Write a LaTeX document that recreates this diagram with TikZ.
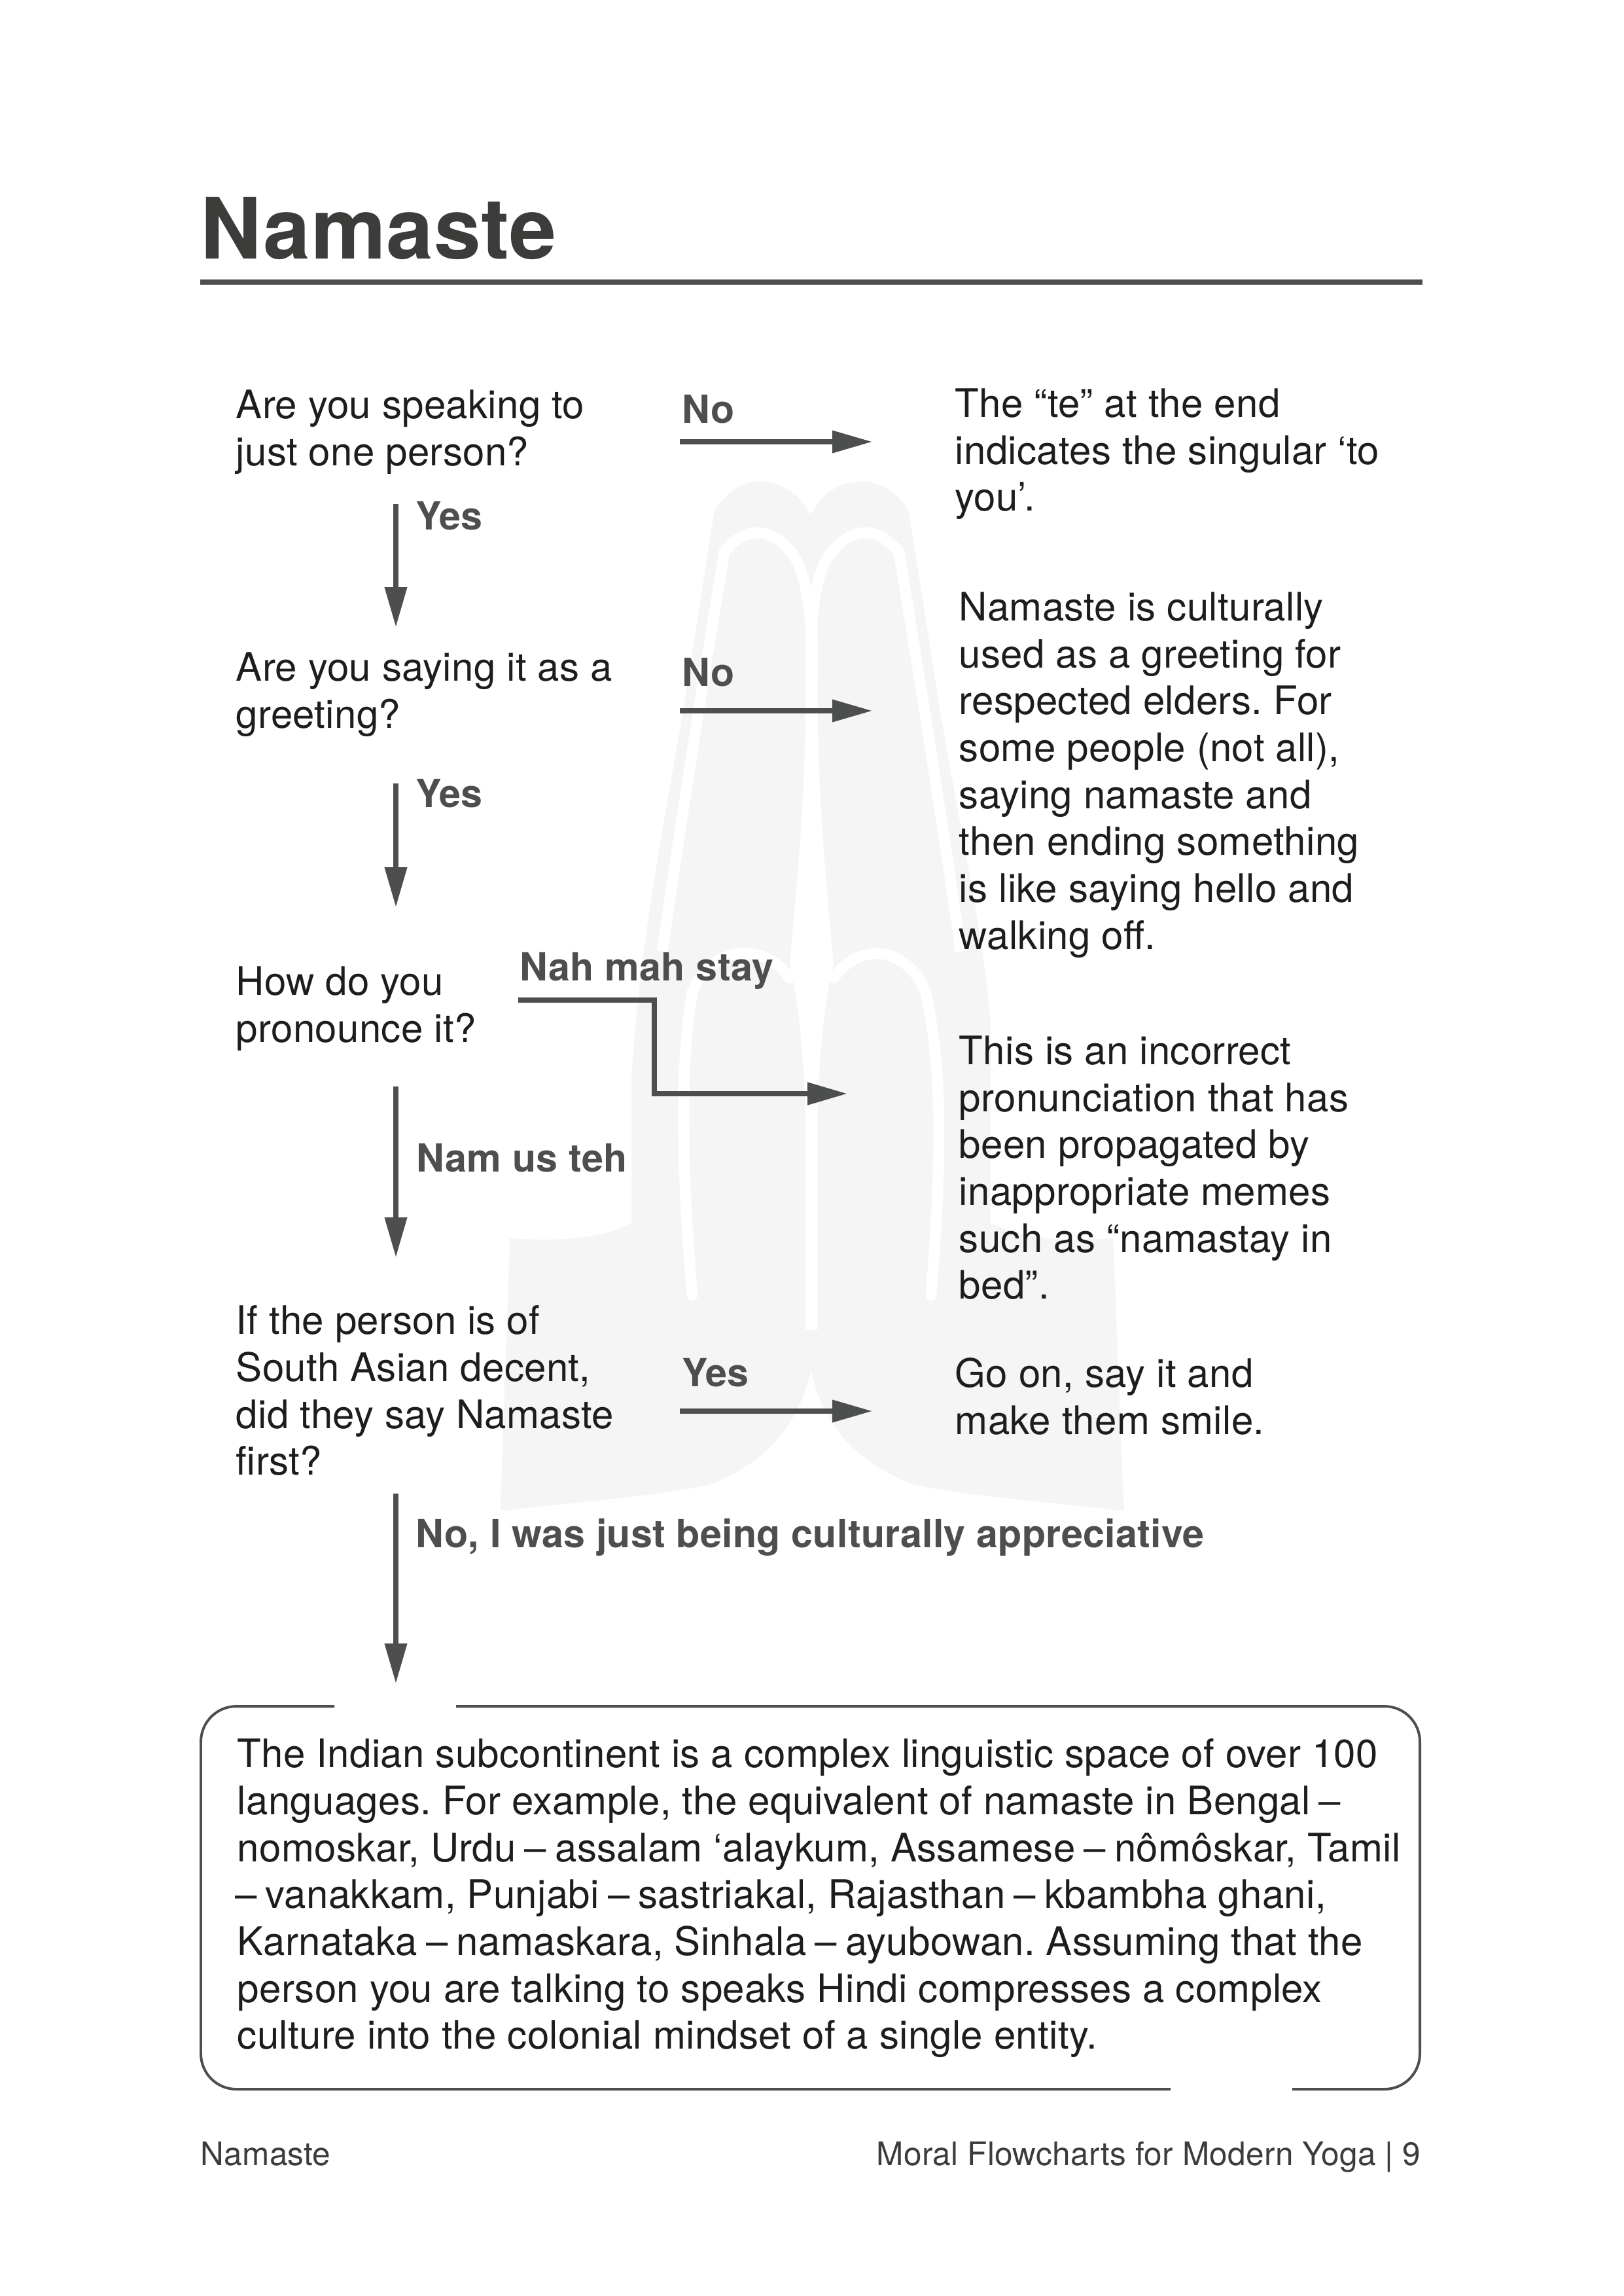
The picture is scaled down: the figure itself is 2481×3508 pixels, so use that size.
\documentclass[tikz,border=0pt]{standalone}
\usepackage{fontspec}
\setmainfont[LetterSpace=0.5]{TeX Gyre Heros}
\usetikzlibrary{arrows.meta}
\definecolor{ink}{HTML}{1D1D1B}
\definecolor{lab}{HTML}{4D4F4F}
\definecolor{head}{HTML}{3C3C3B}
\definecolor{hand}{HTML}{F5F5F5}
\newcommand{\tstrut}{\rule{0pt}{10pt}}
\newcommand{\dsh}{\kern-0.9pt–\kern-0.9pt}
\frenchspacing
\tikzset{
  body/.style={anchor=north west,align=left,inner sep=0pt,text=ink,font=\fontsize{14.4}{17.2}\selectfont},
  lbl/.style={anchor=base west,inner sep=0pt,text=lab,font=\fontsize{14.2}{16}\selectfont\bfseries},
  foot/.style={inner sep=0pt,text=head,font=\fontsize{11.9}{14}\selectfont},
  flow/.style={draw=lab,line width=1.7pt,-{Triangle[length=14.6pt,width=7.9pt]}},
  frame/.style={draw=lab,line width=0.95pt,rounded corners=13pt},
  band/.style={draw=white,line width=4pt,line cap=round}
}
\begin{document}
\begin{tikzpicture}[x=0.24pt,y=-0.24pt]
\useasboundingbox (0,0) rectangle (2481,3508);
% praying hands watermark
\begin{scope}[shift={(700,680)},x=0.16842pt,y=-0.25714pt]
\fill[hand] (768,100) .. controls (740,65) and (700,52) .. (655,52)
  .. controls (615,52) and (580,70) .. (558,95)
  -- (490,380) .. controls (440,570) and (395,720) .. (378,900)
  -- (378,1110) .. controls (300,1135) and (200,1135) .. (113,1131)
  -- (92,1520) .. controls (300,1505) and (480,1495) .. (560,1480)
  .. controls (660,1450) and (735,1410) .. (769,1320)
  .. controls (800,1410) and (880,1450) .. (980,1480)
  .. controls (1060,1495) and (1250,1505) .. (1450,1520)
  -- (1427,1131) .. controls (1340,1135) and (1240,1135) .. (1160,1110)
  -- (1160,830) .. controls (1150,720) and (1100,570) .. (1050,380)
  -- (982,95) .. controls (960,70) and (925,52) .. (880,52)
  .. controls (835,52) and (795,65) .. (768,100) -- cycle;
% central wedge
\fill[white] (769,200) .. controls (752,240) and (757,300) .. (757,380)
  .. controls (755,500) and (740,620) .. (722,740) -- (818,740)
  .. controls (800,620) and (785,500) .. (783,380)
  .. controls (783,300) and (788,240) .. (769,200) -- cycle;
\fill[white] (722,740) .. controls (745,800) and (757,900) .. (757,1000)
  -- (757,1262) -- (782,1262) -- (782,1000)
  .. controls (782,900) and (795,800) .. (818,740) -- cycle;
% upper fingers
\draw[band,line cap=butt] (445,722) .. controls (480,560) and (530,350) .. (580,152)
  .. controls (610,130) and (630,125) .. (650,125)
  .. controls (690,125) and (720,145) .. (738,165)
  .. controls (755,190) and (762,215) .. (769,260);
\draw[band,line cap=butt] (1095,722) .. controls (1060,560) and (1010,350) .. (960,152)
  .. controls (930,130) and (910,125) .. (885,125)
  .. controls (850,125) and (820,145) .. (800,165)
  .. controls (783,190) and (776,215) .. (769,260);
% lower fingers
\draw[band] (510,1212) .. controls (490,1050) and (480,900) .. (510,780)
  .. controls (540,735) and (590,725) .. (625,725)
  .. controls (670,725) and (700,740) .. (722,760);
\draw[band] (1030,1212) .. controls (1050,1050) and (1060,900) .. (1018,780)
  .. controls (1000,745) and (950,725) .. (915,725)
  .. controls (870,725) and (840,740) .. (818,760);
\end{scope}

% title
\node[anchor=base west,inner sep=0pt,text=head,font=\fontsize{31}{34}\selectfont\bfseries] (title) at (306,396) {Namaste};
\coordinate (ruleL) at (306,431);
\coordinate (ruleR) at (2174,431);
\draw[draw=lab,line width=1.7pt] (ruleL) -- (ruleR);

% questions
\node[body] (q1) at (360,595) {\tstrut Are you speaking to\\just one person?};
\node[body] (q2) at (360,996) {\tstrut Are you saying it as a\\greeting?};
\node[body] (q3) at (360,1476) {\tstrut How do you\\pronounce it?};
\node[body] (q4) at (360,1994) {\tstrut If the person is of\\South Asian decent,\\did they say Namaste\\first?};

% answers
\node[body] (a1) at (1459,593) {\tstrut The “te” at the end\\indicates the singular ‘to\\you’.};
\node[body] (a2) at (1465,904) {\tstrut Namaste is culturally\\used as a greeting for\\respected elders. For\\some people (not all),\\saying namaste and\\then ending something\\is like saying hello and\\walking off.};
\node[body] (a3) at (1465,1582) {\tstrut This is an incorrect\\pronunciation that has\\been propagated by\\inappropriate memes\\such as “namastay in\\bed”.};
\node[body] (a4) at (1459,2074) {\tstrut Go on, say it and\\make them smile.};

% labels
\node[lbl] (l1) at (1042,647) {No};
\node[lbl] (l2) at (635,810) {Yes};
\node[lbl] (l3) at (1042,1049) {No};
\node[lbl] (l4) at (635,1233) {Yes};
\node[lbl] (l5) at (794,1498) {Nah mah stay};
\node[lbl] (l6) at (636,1790) {Nam us teh};
\node[lbl] (l7) at (1042,2118) {Yes};
\node[lbl] (l8) at (635,2364) {No, I was just being culturally appreciative};

% connector ends
\coordinate (q1r) at (1039,675);   \coordinate (a1l) at (1333,675);
\coordinate (q1b) at (605,770);    \coordinate (q2t) at (605,958);
\coordinate (q2r) at (1039,1086);  \coordinate (a2l) at (1333,1086);
\coordinate (q2b) at (605,1197);   \coordinate (q3t) at (605,1386);
\coordinate (q3r) at (792,1528);   \coordinate (a3l) at (1295,1671);
\coordinate (q3b) at (605,1660);   \coordinate (q4t) at (605,1921);
\coordinate (q4r) at (1039,2156);  \coordinate (a4l) at (1333,2156);
\coordinate (q4b) at (605,2282);   \coordinate (bxt) at (605,2572);

\draw[flow] (q1r) -- (a1l);
\draw[flow] (q1b) -- (q2t);
\draw[flow] (q2r) -- (a2l);
\draw[flow] (q2b) -- (q3t);
\draw[flow,line width=1.9pt] (q3r) -- (1000,1528) -- (1000,1671) -- (a3l);
\draw[flow] (q3b) -- (q4t);
\draw[flow] (q4r) -- (a4l);
\draw[flow] (q4b) -- (bxt);

% box
\coordinate (gapA) at (511,2607);
\coordinate (gapB) at (697,2607);
\coordinate (gapC) at (1975,3192);
\coordinate (gapD) at (1789,3192);
\draw[frame] (gapA) -- (307,2607) -- (307,3192) -- (gapD);
\draw[frame] (gapB) -- (2170,2607) -- (2170,3192) -- (gapC);
\node[body] (box) at (362,2656) {\tstrut The Indian subcontinent is a complex linguistic space of over 100\\languages. For example, the equivalent of namaste in Bengal \dsh\\nomoskar, Urdu \dsh{} assalam ‘alaykum, Assamese \dsh{} nômôskar, Tamil\\\dsh{} vanakkam, Punjabi \dsh{} sastriakal, Rajasthan \dsh{} kbambha ghani,\\Karnataka \dsh{} namaskara, Sinhala \dsh{} ayubowan. Assuming that the\\person you are talking to speaks Hindi compresses a complex\\culture into the colonial mindset of a single entity.};

% footer
\node[foot,anchor=base west] (fl) at (306,3308) {Namaste};
\node[foot,anchor=base east] (fr) at (2172,3308) {Moral Flowcharts for Modern Yoga | 9};
\end{tikzpicture}
\end{document}
